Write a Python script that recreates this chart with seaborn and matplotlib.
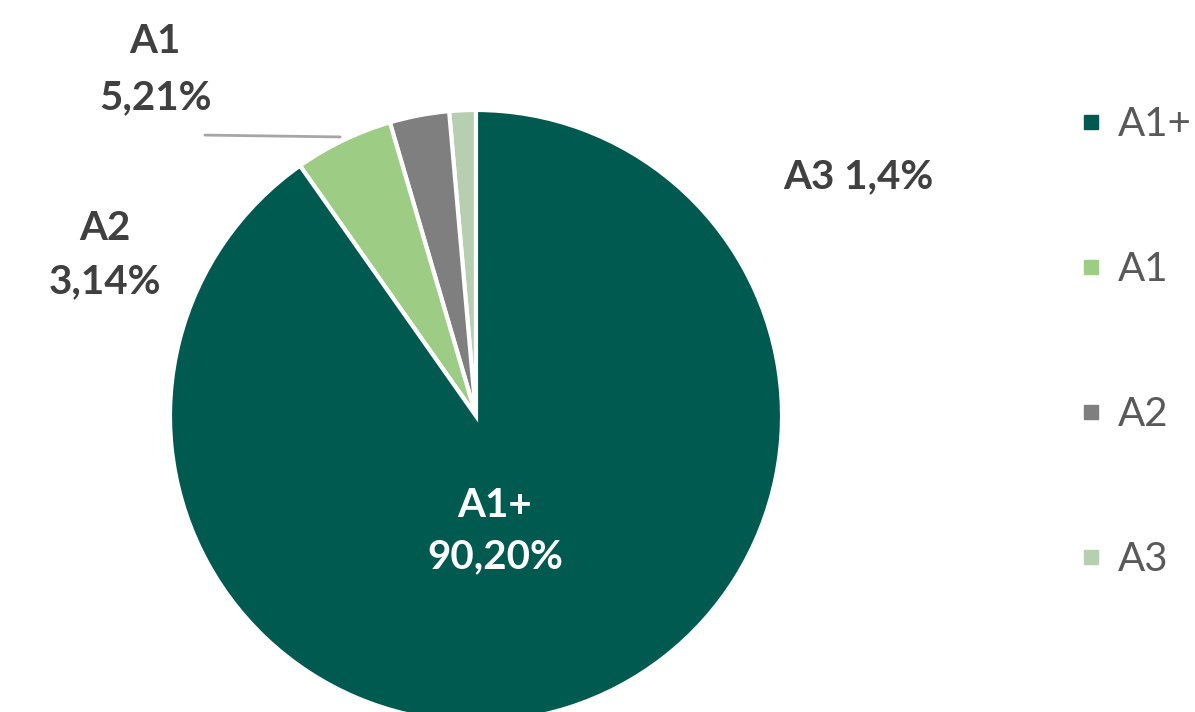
import matplotlib
matplotlib.use("Agg")
import matplotlib.pyplot as plt
from matplotlib.lines import Line2D
import seaborn as sns

# Rating distribution
categories = ["A1+", "A1", "A2", "A3"]
shares = [90.20, 5.21, 3.14, 1.4]
share_labels = ["90,20%", "5,21%", "3,14%", "1,4%"]
colors = ["#005a50", "#9dcc84", "#7f7f7f", "#b6cfb1"]

sns.set_theme(style="white")
plt.rcParams["font.family"] = ["Lato", "DejaVu Sans"]

W, H, DPI = 1195, 712, 100
fig = plt.figure(figsize=(W / DPI, H / DPI), dpi=DPI)
ax = fig.add_axes([0, 0, 1, 1])

# Pie drawn in reverse so the small slices sit just left of twelve o'clock
order = list(range(len(categories)))[::-1]
wedges, _ = ax.pie(
    [shares[i] for i in order],
    colors=[colors[i] for i in order],
    startangle=90,
    counterclock=True,
    wedgeprops=dict(edgecolor="white", linewidth=3),
)

# Axis window: radius 1 maps to 306 px, pie centred at (476, 416) px
R, CX, CY = 306.0, 476.0, 416.0
ax.set_xlim(-CX / R, (W - CX) / R)
ax.set_ylim(-(H - CY) / R, CY / R)
ax.set_aspect("auto")
ax.axis("off")

dark = "#404040"
fs = 29
ax.text(0.062, -0.376, f"{categories[0]}\n{share_labels[0]}", ha="center", va="center",
        fontsize=fs, fontweight="bold", color="white", linespacing=1.48)
ax.text(-1.049, 1.131, f"{categories[1]}\n{share_labels[1]}", ha="center", va="center",
        fontsize=fs, fontweight="bold", color=dark, linespacing=1.65)
ax.text(-1.212, 0.526, f"{categories[2]}\n{share_labels[2]}", ha="center", va="center",
        fontsize=fs, fontweight="bold", color=dark, linespacing=1.52)
ax.text(1.248, 0.781, f"{categories[3]} {share_labels[3]}", ha="center", va="center",
        fontsize=fs, fontweight="bold", color=dark)
# Leader line for the A1 label
ax.plot([-0.886, -0.444], [0.918, 0.912], color="#a6a6a6", linewidth=2)

handles = [Line2D([], [], marker="s", linestyle="none", markersize=9.5,
                  markerfacecolor=c, markeredgecolor=c) for c in colors]
leg = fig.legend(handles, categories, loc="upper left",
                 bbox_to_anchor=(1063 / W, 1 - 90 / H), frameon=False,
                 fontsize=fs, labelspacing=2.68, handlelength=0.6,
                 handletextpad=0.35, borderaxespad=0)
for t in leg.get_texts():
    t.set_color("#595959")

fig.savefig("out.png", dpi=DPI, facecolor="white")
